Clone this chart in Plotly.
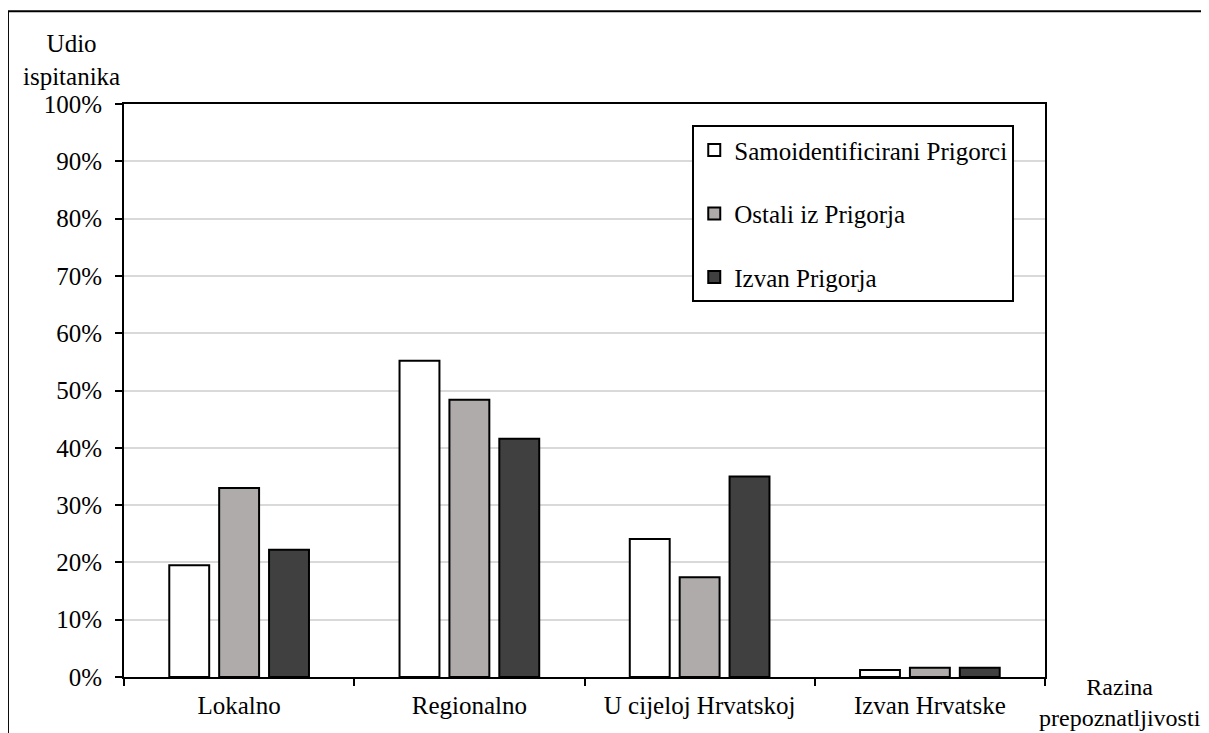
import plotly.graph_objects as go

categories = ["Lokalno", "Regionalno", "U cijeloj Hrvatskoj", "Izvan Hrvatske"]
series_names = ["Samoidentificirani Prigorci", "Ostali iz Prigorja", "Izvan Prigorja"]
samoidentificirani = [19.5, 55.2, 24.1, 1.2]
ostali = [33.0, 48.4, 17.4, 1.6]
izvan = [22.2, 41.6, 35.0, 1.6]
series_values = [samoidentificirani, ostali, izvan]
colors = ["#ffffff", "#afabab", "#404040"]
y_ticks = [0, 10, 20, 30, 40, 50, 60, 70, 80, 90, 100]
y_tick_labels = [f"{v}%" for v in y_ticks]

font_family = "Liberation Serif"
fs = 25

fig = go.Figure()
for i, (name, vals) in enumerate(zip(series_names, series_values)):
    fig.add_trace(go.Bar(
        x=categories, y=vals, name=name,
        marker=dict(color=colors[i], line=dict(color="black", width=2)),
        legendgroup=f"g{i}",
    ))

fig.update_layout(
    width=1201, height=725,
    paper_bgcolor="white", plot_bgcolor="white",
    margin=dict(l=116, r=164, t=96, b=56),
    barmode="group", bargap=0.35, bargroupgap=0.2,
    font=dict(family=font_family, size=fs, color="black"),
    showlegend=True,
    legend=dict(
        x=0.617, y=0.963, xanchor="left", yanchor="top",
        bgcolor="white", bordercolor="black", borderwidth=2,
        traceorder="grouped", tracegroupgap=28,
        font=dict(family=font_family, size=fs, color="black"),
        itemwidth=30,
    ),
    xaxis=dict(
        showline=True, linecolor="black", linewidth=2, mirror=True,
        ticks="outside", ticklen=7, tickwidth=2, tickcolor="black",
        tickson="boundaries", showgrid=False,
        ticklabelstandoff=5,
        tickfont=dict(family=font_family, size=fs),
    ),
    yaxis=dict(
        range=[0, 100], tickvals=y_ticks, ticktext=y_tick_labels,
        showline=True, linecolor="black", linewidth=2, mirror=True,
        ticks="outside", ticklen=7, tickwidth=2, tickcolor="black",
        showgrid=True, gridcolor="#d9d9d9", gridwidth=2,
        zeroline=False, ticklabelstandoff=8,
        tickfont=dict(family=font_family, size=fs),
    ),
    shapes=[dict(type="rect", xref="paper", yref="paper",
                 x0=-0.126, x1=1.25, y0=-0.3, y1=1.162,
                 line=dict(color="black", width=2), fillcolor="rgba(0,0,0,0)",
                 layer="below")],
    annotations=[
        dict(text="Udio<br>ispitanika", xref="paper", yref="paper",
             x=-0.0565, y=1.077, xanchor="center", yanchor="middle",
             showarrow=False, font=dict(family=font_family, size=fs)),
        dict(text="Razina<br>prepoznatljivosti", xref="paper", yref="paper",
             x=1.0, xshift=158, y=-0.044, xanchor="right", yanchor="middle",
             align="center",
             showarrow=False, font=dict(family=font_family, size=24)),
    ],
)

fig.write_html("out.html")
